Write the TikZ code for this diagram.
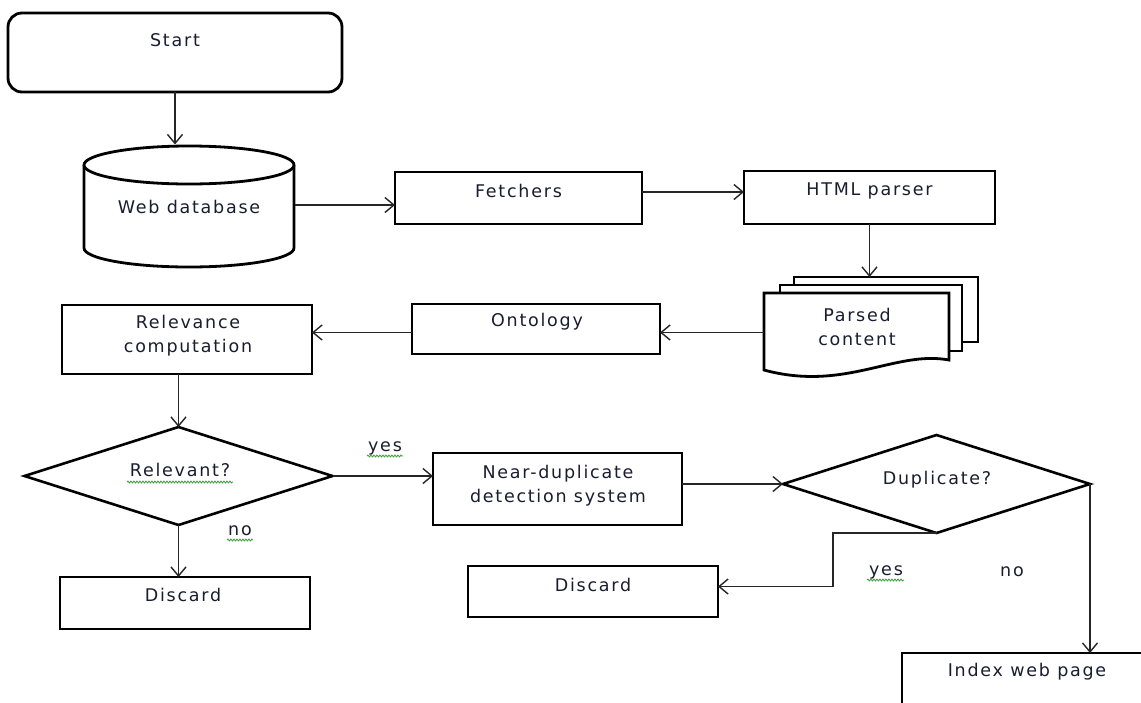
\documentclass[tikz,border=0pt]{standalone}
\usepackage{fontspec}
\setmainfont{DejaVu Sans}[LetterSpace=10]
\usetikzlibrary{arrows.meta,shapes.geometric,decorations.pathmorphing}
\definecolor{ink}{RGB}{28,28,48}
\definecolor{spell}{RGB}{70,160,70}
\tikzset{
  box/.style={draw=black, line width=2.8pt, fill=white, inner sep=0pt, outer sep=0pt},
  ghost/.style={inner sep=0pt, outer sep=0pt},
  decision/.style={diamond, draw=black, line width=2.6pt, fill=white, inner sep=0pt, outer sep=0pt},
  flowline/.style={draw=black!85, line width=1.4pt},
  arr/.style={flowline, -{Straight Barb[length=9pt,width=15pt,line width=1.4pt]}},
  lbl/.style={text=ink, font=\fontsize{17.5}{24}\selectfont, align=center, inner sep=0pt},
  squiggle/.style={draw=spell, line width=0.9pt, decorate,
    decoration={snake, amplitude=0.9pt, segment length=3pt}},
}
\begin{document}
\begin{tikzpicture}[x=1pt, y=-1pt]
\useasboundingbox (0,0) rectangle (1141,702);
\clip (0,0) rectangle (1141,702);
\fill[white] (0,0) rectangle (1141,702);

% start terminal
\node[box, rounded corners=14pt, minimum width=334pt, minimum height=79pt] (start) at (175,52.5) {};
\node[lbl] (t-start) at (175,40) {Start};

% web database cylinder
\node[ghost, minimum width=211pt, minimum height=121pt] (db) at (189,205) {};
\draw[box] (84,165) -- (84,248) arc[start angle=180, end angle=360, x radius=105pt, y radius=19pt] -- (294,165);
\draw[box] (189,165) ellipse[x radius=105pt, y radius=19pt];
\node[lbl] (t-db) at (189,207) {Web database};

% processing boxes
\node[box, minimum width=247pt, minimum height=52pt] (fetch) at (518.5,198) {};
\node[lbl] (t-fetch) at (518.5,191) {Fetchers};
\node[box, minimum width=251pt, minimum height=53pt] (html) at (869.5,197.5) {};
\node[lbl] (t-html) at (869.5,191) {HTML parser};

% parsed content: stack of documents
\node[box, minimum width=184pt, minimum height=65pt] (pc3) at (886,309.5) {};
\node[box, minimum width=182pt, minimum height=66pt] (pc2) at (871,318) {};
\draw[box] (764,293) -- (949,293) -- (949,360)
  .. controls (895,350) and (845,392) .. (764,370) -- cycle;
\node[ghost, minimum width=185pt, minimum height=80pt] (pc) at (856.5,332.5) {};
\node[lbl] (t-pc) at (857,326.5) {Parsed\\content};

\node[box, minimum width=248pt, minimum height=50pt] (onto) at (536,329) {};
\node[lbl] (t-onto) at (537,322) {Ontology};
\node[box, minimum width=250pt, minimum height=69pt] (rel) at (187,339.5) {};
\node[lbl] (t-rel) at (188,336) {Relevance\\computation};

% relevance decision
\node[decision, minimum width=308pt, minimum height=98pt] (relq) at (178.5,476) {};
\node[lbl] (t-relq) at (180,470) {Relevant?};
\node[box, minimum width=250pt, minimum height=52pt] (disc1) at (185,603) {};
\node[lbl] (t-disc1) at (183,595) {Discard};

\node[box, minimum width=249pt, minimum height=72pt] (ndd) at (557.5,489) {};
\node[lbl] (t-ndd) at (558,485.5) {Near-duplicate\\detection system};

% duplicate decision
\node[decision, minimum width=307pt, minimum height=98pt] (dupq) at (936.5,484) {};
\node[lbl] (t-dupq) at (937,480) {Duplicate?};
\node[box, minimum width=250pt, minimum height=51pt] (disc2) at (593,591.5) {};
\node[lbl] (t-disc2) at (593,585) {Discard};
\node[box, anchor=north west, minimum width=300pt, minimum height=80pt] (idx) at (902,653) {};
\node[lbl] (t-idx) at (1027,672) {Index web page};

% branch labels
\node[lbl] (l-yes1) at (385,448) {yes};
\node[lbl] (l-no1) at (240,531) {no};
\node[lbl] (l-yes2) at (886,572) {yes};
\node[lbl] (l-no2) at (1012,572) {no};

% spelling marks under some words
\draw[squiggle] (127,482) -- (233,482);
\draw[squiggle] (367,456) -- (403,456);
\draw[squiggle] (227,540) -- (253,540);
\draw[squiggle] (867,580) -- (904,580);

% connectors
\coordinate (bend) at (833,533);
\draw[arr] (start.south) -- (start.south |- db.north);
\draw[arr] (db.east) -- (db.east -| fetch.west);
\draw[arr] ([yshift=6pt]fetch.east) -- ([yshift=6pt]fetch.east -| html.west);
\draw[arr] (html.south) -- (html.south |- pc3.north);
\draw[arr] (pc.west) -- (pc.west -| onto.east);
\draw[arr] (onto.west |- pc.west) -- (rel.east |- pc.west);
\draw[arr] (relq.north |- rel.south) -- (relq.north);
\draw[arr] (relq.south) -- (relq.south |- disc1.north);
\draw[arr] (relq.east) -- (relq.east -| ndd.west);
\draw[arr] (ndd.east |- dupq.west) -- (dupq.west);
\draw[arr] (dupq.south) -- (bend) |- ([yshift=5pt]disc2.east);
\draw[arr] (dupq.east) -- (dupq.east |- idx.north);
\end{tikzpicture}
\end{document}
